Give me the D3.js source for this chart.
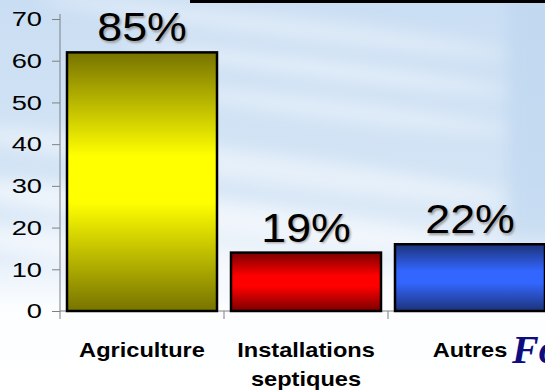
<!DOCTYPE html>
<html>
<head>
<meta charset="utf-8">
<script src="https://cdn.jsdelivr.net/npm/d3@7"></script>
<style>
  html, body { margin: 0; padding: 0; background: #fff; }
  svg { display: block; }
</style>
</head>
<body>
<div id="chart"></div>
<script>
// Sources of pollution: bar heights on the 0–70 axis, with the share shown above each bar
const categories = ["Agriculture", "Installations septiques", "Autres"];
const values = [62, 14, 16];
const shareLabels = ["85%", "19%", "22%"];
const yTicks = [0, 10, 20, 30, 40, 50, 60, 70];
const barColors = [
  { edge: "#777300", mid: "#ffff00" },
  { edge: "#7a0000", mid: "#ff0000" },
  { edge: "#1c3278", mid: "#3366ff" }
];

const W = 545, H = 391;
const FONT = "Arial, 'Liberation Sans', sans-serif";
const svg = d3.select("#chart").append("svg")
  .attr("width", W).attr("height", H)
  .style("font-family", FONT);

const defs = svg.append("defs");

// --- sky backdrop ---
const skyV = defs.append("linearGradient").attr("id", "skyV")
  .attr("x1", 0).attr("y1", 0).attr("x2", 0).attr("y2", 1);
skyV.append("stop").attr("offset", "0%").attr("stop-color", "#cadef3");
skyV.append("stop").attr("offset", "45%").attr("stop-color", "#d3e4f5");
skyV.append("stop").attr("offset", "66%").attr("stop-color", "#e4eef9");
skyV.append("stop").attr("offset", "78%").attr("stop-color", "#fbfdff");
skyV.append("stop").attr("offset", "100%").attr("stop-color", "#ffffff");

defs.append("filter").attr("id", "soft").attr("x", "-30%").attr("y", "-80%").attr("width", "160%").attr("height", "260%")
  .append("feGaussianBlur").attr("stdDeviation", 8);
defs.append("filter").attr("id", "shadowBlur")
  .append("feGaussianBlur").attr("stdDeviation", 0.8);

svg.append("rect").attr("width", W).attr("height", H).attr("fill", "url(#skyV)");

// bluer sky beyond the cloud edge on the right
svg.append("rect").attr("x", 508).attr("y", -10).attr("width", 60).attr("height", 250)
  .attr("fill", "#bad4ef").attr("opacity", 0.55).attr("filter", "url(#soft)");

// streaks of thin cloud
const streaks = [
  { x: 40, y: 14, w: 470, h: 24, o: 0.35 },
  { x: 120, y: 58, w: 390, h: 20, o: 0.4 },
  { x: 150, y: 98, w: 360, h: 22, o: 0.35 },
  { x: -40, y: 150, w: 550, h: 30, o: 0.45 },
  { x: -60, y: 200, w: 560, h: 36, o: 0.55 },
  { x: -40, y: 250, w: 600, h: 40, o: 0.55 }
];
svg.append("g").attr("filter", "url(#soft)")
  .selectAll("ellipse").data(streaks).join("ellipse")
  .attr("cx", d => d.x + d.w / 2).attr("cy", d => d.y + d.h / 2)
  .attr("rx", d => d.w / 2).attr("ry", d => d.h / 2)
  .attr("fill", "#ffffff").attr("opacity", d => d.o)
  .attr("transform", d => `rotate(7, ${d.x + d.w / 2}, ${d.y + d.h / 2})`);

// thin black strip along the top
svg.append("rect").attr("x", 190).attr("y", 0).attr("width", W - 190).attr("height", 3).attr("fill", "#000");

// --- scales ---
const plotLeft = 60, plotBottom = 311, plotTop = 19;
const step = 164;
const innerPad = 14 / step;
const x = d3.scaleBand().domain(categories)
  .range([plotLeft, plotLeft + step * categories.length])
  .paddingInner(innerPad).paddingOuter(innerPad / 2);
const y = d3.scaleLinear().domain([0, 70]).range([plotBottom, plotTop]);

// --- bar gradients ---
barColors.forEach((c, i) => {
  const g = defs.append("linearGradient").attr("id", "bar" + i)
    .attr("x1", 0).attr("y1", 0).attr("x2", 0).attr("y2", 1);
  g.append("stop").attr("offset", "0%").attr("stop-color", c.edge);
  g.append("stop").attr("offset", "40%").attr("stop-color", c.mid);
  g.append("stop").attr("offset", "58%").attr("stop-color", c.mid);
  g.append("stop").attr("offset", "100%").attr("stop-color", c.edge);
});

// --- axes ---
const axisColor = "#808080";
const tickStretch = 1.3;
const yAxis = d3.axisLeft(y).tickValues(yTicks).tickSize(8).tickPadding(10).tickFormat(d3.format("d"));
const gy = svg.append("g").attr("transform", `translate(${plotLeft},0)`).call(yAxis);
gy.select(".domain").attr("stroke", axisColor).attr("d", `M0,${plotTop - 5}V${plotBottom}`);
gy.selectAll(".tick line").attr("stroke", axisColor);
gy.selectAll(".tick text")
  .attr("fill", "#000")
  .attr("x", -18 / tickStretch)
  .attr("transform", `scale(${tickStretch},1)`)
  .style("font-size", "21px").style("font-family", FONT);

// x baseline and category boundary ticks
const boundaries = categories.map(c => x(c) - x.step() * innerPad / 2).concat([x.range()[1]]);
svg.append("line").attr("x1", plotLeft).attr("x2", W).attr("y1", plotBottom).attr("y2", plotBottom)
  .attr("stroke", axisColor);
svg.append("g").selectAll("line").data(boundaries).join("line")
  .attr("x1", d => d).attr("x2", d => d)
  .attr("y1", plotBottom).attr("y2", plotBottom + 8)
  .attr("stroke", axisColor);

// --- bars ---
svg.append("g").selectAll("rect").data(categories).join("rect")
  .attr("x", d => x(d))
  .attr("y", (d, i) => y(values[i]))
  .attr("width", x.bandwidth())
  .attr("height", (d, i) => y(0) - y(values[i]))
  .attr("fill", (d, i) => `url(#bar${i})`)
  .attr("stroke", "#000").attr("stroke-width", 2.5);

// --- share labels above bars (with soft drop shadow) ---
const shareStretch = 1.09;
const lbl = svg.append("g").style("font-size", "41px");
[{ cls: "sh", dx: 1.5, fill: "#9a9a9a", filter: "url(#shadowBlur)" },
 { cls: "v", dx: 0, fill: "#000", filter: null }].forEach(s => {
  lbl.selectAll("text." + s.cls).data(categories).join("text").attr("class", s.cls)
    .attr("transform", (d, i) =>
      `translate(${x(d) + x.bandwidth() / 2 + s.dx},${y(values[i]) - 11 + s.dx}) scale(${shareStretch},1)`)
    .attr("text-anchor", "middle").attr("fill", s.fill).attr("filter", s.filter)
    .text((d, i) => shareLabels[i]);
});

// --- category labels ---
const catStretch = 1.18;
const catLines = { "Installations septiques": ["Installations", "septiques"] };
const cg = svg.append("g").style("font-size", "20px").style("font-weight", "bold");
categories.forEach(c => {
  const lines = catLines[c] || [c];
  lines.forEach((t, k) => {
    cg.append("text")
      .attr("transform", `translate(${x(c) + x.bandwidth() / 2},${357 + k * 29}) scale(${catStretch},1)`)
      .attr("text-anchor", "middle").attr("fill", "#000")
      .text(t);
  });
});

// title fragment entering at the lower right
svg.append("text").attr("x", 512).attr("y", 363)
  .style("font-family", "'Times New Roman', 'Liberation Serif', serif")
  .style("font-style", "italic").style("font-weight", "bold").style("font-size", "40px")
  .attr("fill", "#0d0d80")
  .text("Fo");
</script>
</body>
</html>
